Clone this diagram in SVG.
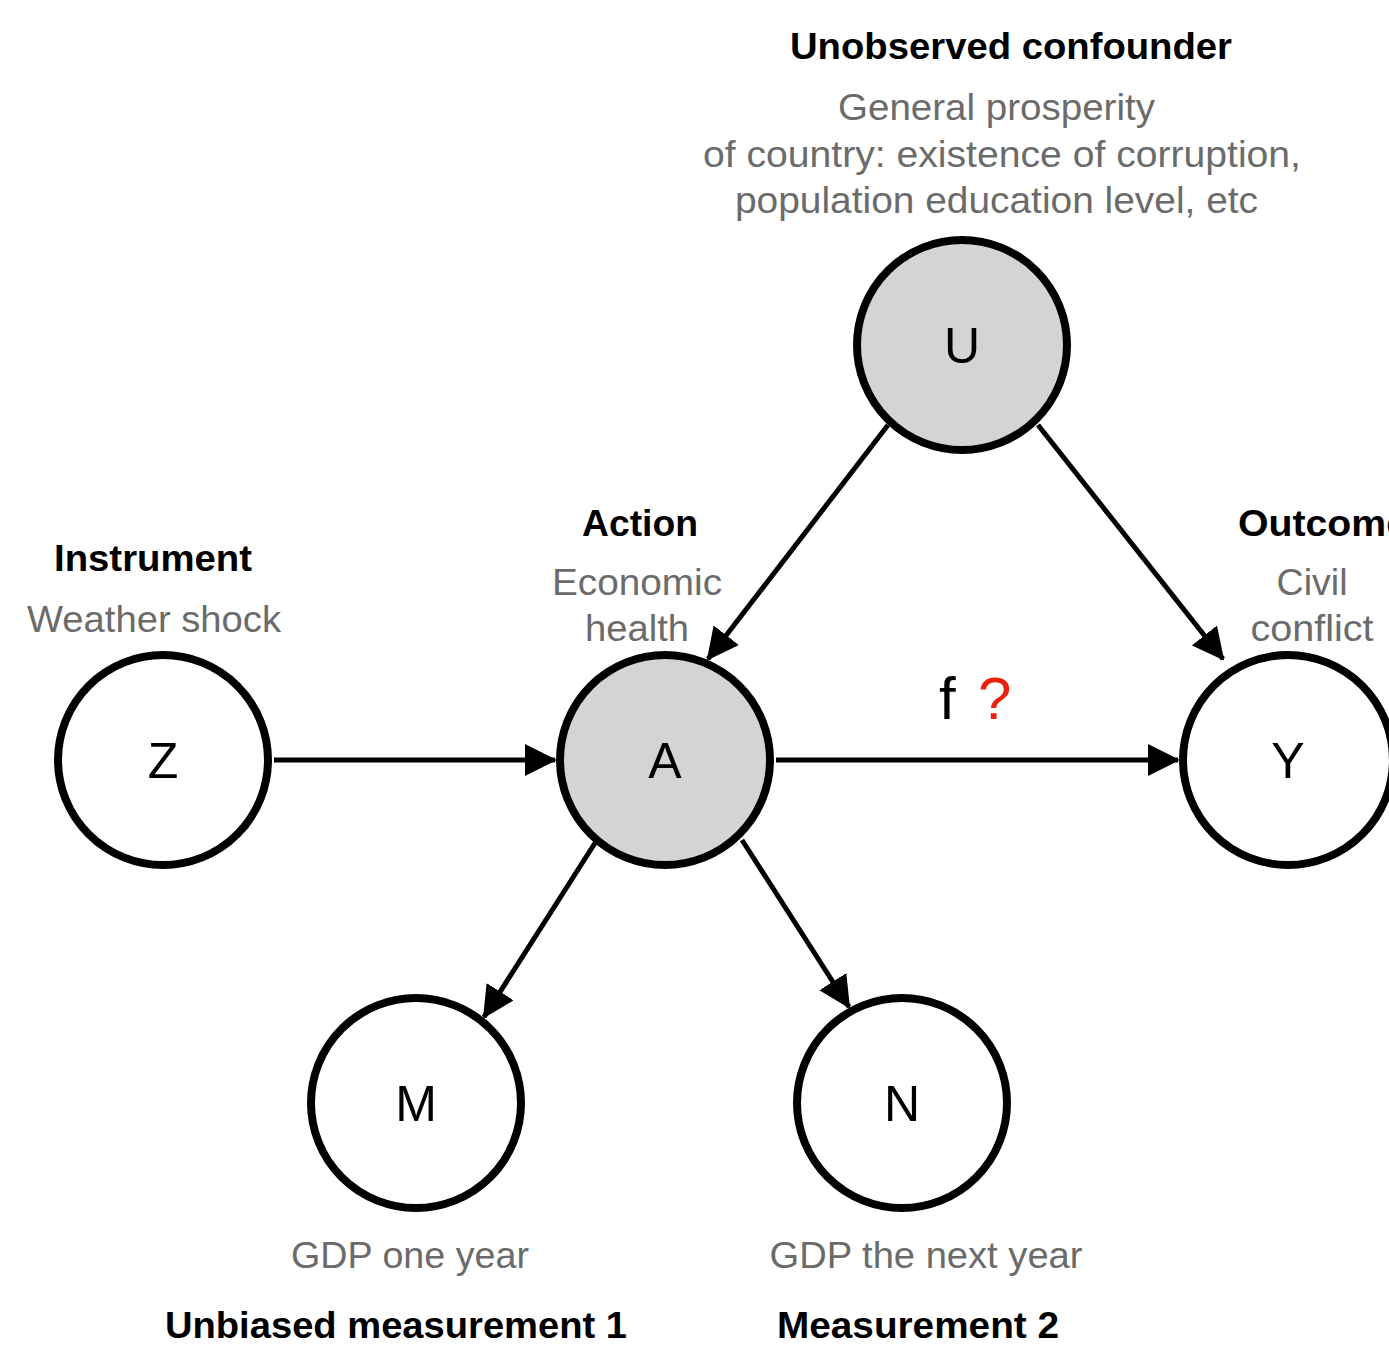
<svg xmlns="http://www.w3.org/2000/svg" width="1389" height="1351" viewBox="0 0 1389 1351">
<defs>
<marker id="arr" markerWidth="6.4" markerHeight="6.4" refX="6" refY="3.2" orient="auto" markerUnits="strokeWidth">
<path d="M0,0 L6.4,3.2 L0,6.4 Z" fill="#000"/>
</marker>
<style>
.node{stroke:#000;stroke-width:8}
.obs{fill:#fff}
.hid{fill:#d4d4d4}
.lbl{font-family:"Liberation Sans",Arial,sans-serif;font-size:50px;fill:#000;text-anchor:middle}
.title{font-family:"Liberation Sans",Arial,sans-serif;font-size:36px;font-weight:bold;fill:#000;text-anchor:middle}
.sub{font-family:"Liberation Sans",Arial,sans-serif;font-size:37px;fill:#6b6b6b;text-anchor:middle}
.edge{stroke:#000;stroke-width:5;fill:none;marker-end:url(#arr)}
.f{font-family:"Liberation Sans",Arial,sans-serif;font-size:60px}
</style>
</defs>
<rect width="1389" height="1351" fill="#fff"/>
<g id="connectors">
<line class="edge" x1="274" y1="760" x2="555" y2="760"/>
<line class="edge" x1="776" y1="760" x2="1178" y2="760"/>
<line class="edge" x1="888" y1="425" x2="708" y2="659"/>
<line class="edge" x1="1038" y1="425" x2="1223" y2="659"/>
<line class="edge" x1="595" y1="843" x2="484" y2="1017"/>
<line class="edge" x1="742" y1="840" x2="849" y2="1007"/>
<text class="f" x="939" y="719" fill="#000">f</text>
<text class="f" x="978" y="719" fill="#e8220f">?</text>
</g>
<g id="node-U">
<circle class="node hid" cx="962" cy="345" r="105"/>
<text class="lbl" x="962" y="363">U</text>
<text class="title" x="1011" y="59" textLength="442" lengthAdjust="spacingAndGlyphs">Unobserved confounder</text>
<text class="sub" x="996.5" y="120" textLength="317" lengthAdjust="spacingAndGlyphs">General prosperity</text>
<text class="sub" x="1002" y="167" textLength="598" lengthAdjust="spacingAndGlyphs">of country: existence of corruption,</text>
<text class="sub" x="996.5" y="213" textLength="523" lengthAdjust="spacingAndGlyphs">population education level, etc</text>
</g>
<g id="node-A">
<circle class="node hid" cx="665" cy="760" r="105"/>
<text class="lbl" x="665" y="778">A</text>
<text class="title" x="640" y="536" textLength="116" lengthAdjust="spacingAndGlyphs">Action</text>
<text class="sub" x="637" y="595" textLength="170" lengthAdjust="spacingAndGlyphs">Economic</text>
<text class="sub" x="637" y="641" textLength="104" lengthAdjust="spacingAndGlyphs">health</text>
</g>
<g id="node-Z">
<circle class="node obs" cx="163" cy="760" r="105"/>
<text class="lbl" x="163" y="778">Z</text>
<text class="title" x="153" y="571" textLength="198" lengthAdjust="spacingAndGlyphs">Instrument</text>
<text class="sub" x="154" y="632" textLength="254" lengthAdjust="spacingAndGlyphs">Weather shock</text>
</g>
<g id="node-Y">
<circle class="node obs" cx="1288" cy="760" r="105"/>
<text class="lbl" x="1288" y="778">Y</text>
<text class="title" x="1238" y="536" style="text-anchor:start" textLength="170" lengthAdjust="spacingAndGlyphs">Outcome</text>
<text class="sub" x="1312" y="595" textLength="71" lengthAdjust="spacingAndGlyphs">Civil</text>
<text class="sub" x="1312" y="641" textLength="123" lengthAdjust="spacingAndGlyphs">conflict</text>
</g>
<g id="node-M">
<circle class="node obs" cx="416" cy="1103" r="105"/>
<text class="lbl" x="416" y="1121">M</text>
<text class="sub" x="410" y="1268" textLength="238" lengthAdjust="spacingAndGlyphs">GDP one year</text>
<text class="title" x="396" y="1338" textLength="462" lengthAdjust="spacingAndGlyphs">Unbiased measurement 1</text>
</g>
<g id="node-N">
<circle class="node obs" cx="902" cy="1103" r="105"/>
<text class="lbl" x="902" y="1121">N</text>
<text class="sub" x="926" y="1268" textLength="313" lengthAdjust="spacingAndGlyphs">GDP the next year</text>
<text class="title" x="918" y="1338" textLength="282" lengthAdjust="spacingAndGlyphs">Measurement 2</text>
</g>
</svg>
